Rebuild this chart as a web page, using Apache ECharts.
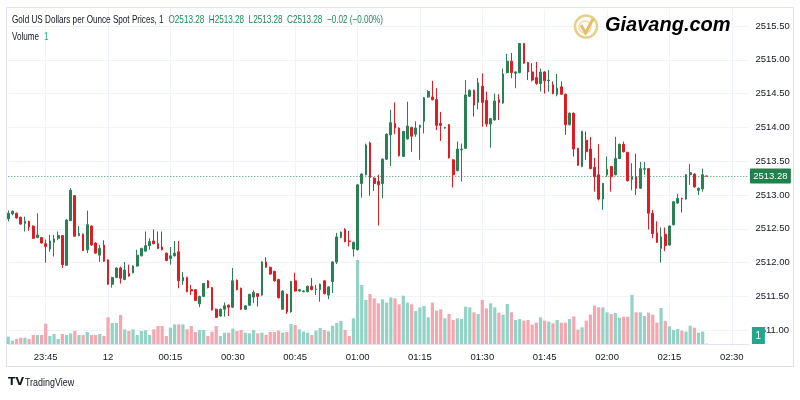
<!DOCTYPE html>
<html><head><meta charset="utf-8">
<script src="https://cdn.jsdelivr.net/npm/echarts@6/dist/echarts.min.js"></script>
<style>html,body{margin:0;padding:0;background:#fff;}#c{width:800px;height:400px;}</style>
</head><body><div id="c"></div>
<script>
const startTime = '23:36';
const slotCount = 179;
const tickLabels = ['23:45','12','00:15','00:30','00:45','01:00','01:15','01:30','01:45','02:00','02:15','02:30'];
const opens = [2512.65,2512.72,2512.73,2512.67,2512.58,2512.61,2512.54,2512.37,2512.37,2512.28,2512.20,2512.30,2512.36,2512.40,2511.96,2512.62,2512.99,2512.40,2512.42,2512.19,2512.54,2512.29,2512.11,2512.26,2512.04,2511.68,2511.78,2511.92,2511.75,2511.84,2511.85,2511.95,2512.10,2512.17,2512.25,2512.32,2512.28,2512.23,2512.14,2512.06,2512.10,2512.16,2511.73,2511.78,2511.60,2511.60,2511.39,2511.50,2511.73,2511.63,2511.31,2511.21,2511.31,2511.37,2511.34,2511.74,2511.62,2511.31,2511.37,2511.49,2511.54,2511.52,2512.01,2511.93,2511.87,2511.75,2511.31,2511.53,2511.27,2511.73,2511.58,2511.57,2511.57,2511.65,2511.60,2511.60,2511.73,2511.52,2511.72,2512.01,2512.37,2512.49,2512.32,2512.20,2512.19,2513.17,2513.30,2513.77,2513.25,2513.20,2513.17,2513.53,2513.89,2514.06,2513.99,2513.57,2513.83,2514.00,2513.90,2514.00,2514.09,2514.45,2514.45,2514.41,2514.06,2513.99,2514.04,2513.52,2513.36,2513.67,2513.69,2514.46,2514.55,2514.37,2514.61,2514.40,2514.05,2514.11,2514.41,2514.36,2514.81,2514.98,2514.80,2514.81,2515.24,2514.96,2514.82,2514.74,2514.65,2514.82,2514.69,2514.63,2514.49,2514.60,2514.49,2514.04,2514.21,2513.69,2513.42,2513.81,2513.68,2513.41,2513.30,2512.94,2513.30,2513.42,2513.30,2513.54,2513.75,2513.63,2513.23,2513.27,2513.10,2513.38,2513.39,2512.73,2512.44,2512.21,2512.42,2512.26,2512.56,2512.88,2512.95,2512.94,2513.30,2513.31,2513.07,2513.09,2513.28];
const closes = [2512.73,2512.76,2512.66,2512.57,2512.61,2512.53,2512.36,2512.41,2512.29,2512.24,2512.32,2512.35,2512.40,2511.97,2512.63,2513.07,2512.39,2512.43,2512.18,2512.56,2512.26,2512.14,2512.21,2512.02,2511.68,2511.78,2511.92,2511.77,2511.89,2511.80,2511.95,2512.11,2512.21,2512.25,2512.31,2512.28,2512.21,2512.19,2512.03,2512.10,2512.14,2511.73,2511.78,2511.57,2511.58,2511.44,2511.50,2511.69,2511.63,2511.30,2511.19,2511.31,2511.36,2511.34,2511.73,2511.60,2511.31,2511.36,2511.53,2511.56,2511.50,2512.01,2511.93,2511.83,2511.73,2511.48,2511.58,2511.27,2511.72,2511.58,2511.60,2511.58,2511.65,2511.60,2511.61,2511.68,2511.54,2511.64,2512.01,2512.38,2512.45,2512.31,2512.31,2512.30,2513.15,2513.31,2513.74,2513.26,2513.17,2513.15,2513.53,2513.90,2514.07,2513.99,2513.58,2513.94,2514.02,2513.87,2513.99,2514.03,2514.44,2514.53,2514.41,2514.03,2514.03,2514.00,2513.55,2513.30,2513.68,2513.68,2514.48,2514.55,2514.33,2514.66,2514.37,2514.05,2514.13,2514.39,2514.37,2514.79,2514.98,2514.81,2514.82,2515.24,2514.95,2514.82,2514.70,2514.65,2514.82,2514.69,2514.70,2514.50,2514.58,2514.49,2514.04,2514.21,2513.68,2513.44,2513.94,2513.64,2513.39,2513.27,2512.94,2513.17,2513.38,2513.27,2513.54,2513.75,2513.64,2513.21,2513.27,2513.10,2513.39,2513.39,2512.73,2512.43,2512.30,2512.38,2512.25,2512.54,2512.90,2512.95,2512.94,2513.30,2513.33,2513.12,2513.10,2513.30,2513.28];
const lows = [2512.61,2512.70,2512.65,2512.56,2512.46,2512.47,2512.35,2512.36,2512.28,2512.00,2512.16,2512.09,2512.33,2511.92,2511.96,2512.62,2512.39,2512.39,2512.17,2512.14,2512.25,2512.13,2512.01,2512.01,2511.67,2511.63,2511.77,2511.69,2511.74,2511.79,2511.84,2511.94,2512.09,2512.16,2512.19,2512.27,2512.20,2512.18,2512.02,2511.97,2512.09,2511.62,2511.67,2511.56,2511.52,2511.43,2511.34,2511.49,2511.62,2511.29,2511.18,2511.20,2511.20,2511.21,2511.33,2511.59,2511.30,2511.30,2511.36,2511.40,2511.35,2511.51,2511.92,2511.82,2511.72,2511.47,2511.30,2511.24,2511.26,2511.57,2511.57,2511.56,2511.56,2511.59,2511.52,2511.42,2511.53,2511.46,2511.55,2511.98,2512.36,2512.30,2512.24,2512.09,2512.18,2512.96,2513.29,2512.99,2513.06,2512.55,2512.95,2513.52,2513.43,2513.90,2513.57,2513.56,2513.82,2513.64,2513.86,2513.52,2513.91,2514.44,2514.40,2513.96,2513.80,2513.98,2513.54,2513.11,2513.35,2513.20,2513.68,2514.45,2514.16,2514.27,2514.01,2514.01,2513.70,2514.10,2514.11,2514.35,2514.80,2514.73,2514.58,2514.80,2514.94,2514.70,2514.68,2514.63,2514.53,2514.50,2514.53,2514.49,2514.46,2514.48,2513.89,2514.03,2513.57,2513.43,2513.41,2513.52,2513.38,2513.05,2512.92,2512.78,2513.27,2513.05,2513.29,2513.53,2513.63,2513.20,2513.07,2513.00,2513.09,2513.30,2512.49,2512.36,2512.29,2512.00,2512.17,2512.25,2512.55,2512.87,2512.74,2512.93,2513.15,2513.11,2513.00,2513.05,2513.28];
const highs = [2512.77,2512.77,2512.74,2512.68,2512.68,2512.62,2512.55,2512.73,2512.38,2512.34,2512.41,2512.41,2512.46,2512.40,2512.64,2513.10,2513.00,2512.54,2512.43,2512.77,2512.55,2512.30,2512.26,2512.33,2512.05,2511.79,2511.93,2511.94,2512.01,2511.97,2511.96,2512.19,2512.22,2512.46,2512.36,2512.49,2512.46,2512.46,2512.15,2512.23,2512.32,2512.32,2511.86,2511.79,2511.67,2511.61,2511.51,2511.70,2511.74,2511.64,2511.32,2511.32,2511.41,2511.38,2511.92,2511.75,2511.63,2511.37,2511.54,2511.59,2511.55,2512.02,2512.08,2511.94,2511.88,2511.76,2511.59,2511.54,2511.73,2511.85,2511.61,2511.59,2511.66,2511.77,2511.67,2511.69,2511.74,2511.65,2512.02,2512.44,2512.46,2512.51,2512.47,2512.31,2513.16,2513.32,2513.76,2513.79,2513.26,2513.30,2513.54,2513.91,2514.26,2514.37,2514.00,2513.95,2514.38,2514.01,2514.09,2514.04,2514.45,2514.55,2514.69,2514.58,2514.23,2514.01,2514.05,2513.53,2513.79,2513.76,2514.70,2514.56,2514.56,2514.73,2514.80,2514.53,2514.14,2514.50,2514.49,2514.87,2515.09,2515.10,2514.83,2515.25,2515.25,2514.97,2514.95,2514.97,2514.87,2514.83,2514.85,2514.68,2514.79,2514.68,2514.50,2514.22,2514.22,2513.70,2513.95,2513.94,2513.86,2513.55,2513.75,2513.18,2513.57,2513.43,2513.86,2513.76,2513.79,2513.64,2513.47,2513.61,2513.49,2513.49,2513.40,2512.78,2512.61,2512.52,2512.52,2512.55,2512.91,2513.02,2512.96,2513.31,2513.46,2513.32,2513.11,2513.39,2513.28];
const volumes = [22,10,15,19,19,15,27,27,27,61,24,30,15,30,27,32,39,27,27,36,27,27,30,24,80,63,63,87,44,39,44,27,39,41,27,44,54,54,24,49,59,59,59,44,54,36,42,42,24,37,54,24,34,34,46,39,42,34,32,42,32,34,27,36,36,40,34,36,60,57,44,37,34,27,40,48,42,38,55,63,69,42,24,77,252,177,132,150,137,122,134,124,140,137,119,145,124,119,99,110,114,80,124,100,104,77,90,72,77,75,112,110,95,90,132,107,122,110,94,88,120,95,72,75,70,72,58,64,80,70,67,62,72,64,64,75,83,43,50,70,88,115,110,110,95,90,93,79,82,82,147,95,95,84,94,88,64,108,69,53,42,45,40,37,55,49,34,37,1];
const titleText = 'Gold US Dollars per Ounce Spot Prices, 1';
const lastChange = '\u22120.02 (\u22120.00%)';

const UP = '#2a7f55', DOWN = '#e01b24', VUP = '#92d3c6', VDOWN = '#f5a6ae';
const FONT = "'Liberation Sans',Arial,sans-serif";

const cats = [];
(function(){
  const p = startTime.split(':');
  let m = (+p[0]) * 60 + (+p[1]);
  for (let i = 0; i < slotCount; i++) {
    const mm = (m + i) % 1440;
    const h = Math.floor(mm / 60), mi = mm % 60;
    cats.push((h < 10 ? '0' : '') + h + ':' + (mi < 10 ? '0' : '') + mi);
  }
})();
const tickMap = {};
(function(){
  const idxs = [];
  cats.forEach((c, i) => { if (+c.split(':')[1] % 15 === 0) idxs.push(i); });
  idxs.forEach((ci, k) => { if (k < tickLabels.length) tickMap[ci] = tickLabels[k]; });
})();
const isTick = (i) => tickMap.hasOwnProperty(i);

const candleData = opens.map((o, i) => [o, closes[i], lows[i], highs[i]]);
const volData = volumes.map((v, i) => ({ value: v, itemStyle: { color: closes[i] >= opens[i] ? VUP : VDOWN } }));
const lastIdx = closes.length - 1;
const lastClose = closes[lastIdx];

const chart = echarts.init(document.getElementById('c'), null, { renderer: 'canvas' });
const gridL = 8.3, gridR = 51.6;
chart.setOption({
  animation: false,
  backgroundColor: '#ffffff',
  grid: [
    { left: gridL, right: gridR, top: 9.1, bottom: 52.9 },
    { left: gridL, right: gridR, top: 260, bottom: 56 }
  ],
  xAxis: [
    { type: 'category', gridIndex: 0, data: cats, boundaryGap: false,
      axisLine: { show: false }, axisTick: { show: false }, axisLabel: { show: false },
      splitLine: { show: true, interval: (i) => isTick(i), lineStyle: { color: '#f0f3fa', width: 1 } } },
    { type: 'category', gridIndex: 1, data: cats, boundaryGap: false,
      axisLine: { show: true, lineStyle: { color: '#e0e3eb' } }, axisTick: { show: false },
      axisLabel: { show: true, interval: (i) => isTick(i), formatter: (v, i) => tickMap[i] || '',
        color: '#131722', fontSize: 9.5, fontFamily: FONT, margin: 8 },
      splitLine: { show: false } }
  ],
  yAxis: [
    { type: 'value', gridIndex: 0, position: 'right', min: 2510.75, max: 2515.75, interval: 0.25,
      axisLine: { show: false }, axisTick: { show: false },
      axisLabel: { color: '#131722', fontSize: 9.5, fontFamily: FONT, margin: 7,
        formatter: (v) => (Math.round(v * 100) % 50 === 0 && v > 2510.8 && v < 2515.7) ? v.toFixed(2) : '' },
      splitLine: { show: true, lineStyle: { color: ['rgba(0,0,0,0)', '#f0f3fa'], width: 1 } } },
    { type: 'value', gridIndex: 1, min: 0, max: 252, show: false, splitLine: { show: false } }
  ],
  series: [
    { type: 'bar', xAxisIndex: 1, yAxisIndex: 1, data: volData, barWidth: 3.2, z: 1, silent: true },
    { type: 'candlestick', xAxisIndex: 0, yAxisIndex: 0, data: candleData, barWidth: 2.2, clip: false, z: 5,
      itemStyle: { color: UP, color0: DOWN, borderColor: UP, borderColor0: DOWN, borderWidth: 1 },
      markLine: { silent: true, symbol: 'none', animation: false,
        label: { show: false },
        lineStyle: { type: [1, 2], color: UP, width: 1, opacity: 0.9 },
        data: [{ yAxis: lastClose }] } }
  ]
});

const yLast = chart.convertToPixel({ yAxisIndex: 0 }, lastClose);
const yVol = chart.convertToPixel({ yAxisIndex: 1 }, 0);
const axisX = 800 - gridR;
const ohlc = 'O' + opens[lastIdx].toFixed(2) + '  H' + highs[lastIdx].toFixed(2) + '  L' + lows[lastIdx].toFixed(2) + '  C' + closes[lastIdx].toFixed(2) + '  ' + lastChange;

chart.setOption({
  graphic: [
    { type: 'rect', silent: true, z: -10, shape: { x: 6.5, y: 7.5, width: 787, height: 359 },
      style: { fill: 'none', stroke: '#e0e3eb', lineWidth: 1 } },
    { type: 'text', x: 12, y: 13.5, scaleX: 0.74, z: 20, style: {
        text: '{t|' + titleText + '}  {g|' + ohlc + '}',
        rich: { t: { fill: '#131722', fontSize: 11, fontFamily: FONT }, g: { fill: '#22875a', fontSize: 11, fontFamily: FONT } } } },
    { type: 'text', x: 12, y: 30.5, scaleX: 0.74, z: 20, style: {
        text: '{t|Volume}  {g|' + volumes[lastIdx] + '}',
        rich: { t: { fill: '#131722', fontSize: 11, fontFamily: FONT }, g: { fill: '#26a69a', fontSize: 11, fontFamily: FONT } } } },
    { type: 'group', x: 574, y: 14, z: 20, children: [
        { type: 'circle', shape: { cx: 12, cy: 12.5, r: 11 }, style: { fill: 'none', stroke: '#e8cf86', lineWidth: 2.5 } },
        { type: 'circle', shape: { cx: 11, cy: 13, r: 6 }, style: { fill: 'none', stroke: '#efdcaa', lineWidth: 1.5 } },
        { type: 'polyline', shape: { points: [[7, 11], [11.5, 19], [19, 5]] }, style: { fill: 'none', stroke: '#dfc068', lineWidth: 3 } },
        { type: 'text', x: 31, y: 1, style: { text: 'Giavang.com', fontSize: 20, fontWeight: 'bold', fontStyle: 'italic', fontFamily: "'Liberation Sans',Arial,sans-serif",
            fill: new echarts.graphic.LinearGradient(0, 0, 0, 1, [{ offset: 0, color: '#f5e3a8' }, { offset: 0.5, color: '#e8ca76' }, { offset: 1, color: '#d9b757' }]) } }
      ] },
    { type: 'rect', z: 30, shape: { x: axisX + 1.5, y: yLast - 7.5, width: 41, height: 15, r: 1 }, style: { fill: '#22804f' } },
    { type: 'text', z: 31, x: axisX + 22, y: yLast, style: { text: lastClose.toFixed(2), fill: '#ffffff', fontSize: 9.5, fontFamily: FONT, align: 'center', verticalAlign: 'middle' } },
    { type: 'rect', z: 30, shape: { x: axisX + 3.5, y: yVol - 17, width: 13, height: 17 }, style: { fill: '#22a68d' } },
    { type: 'text', z: 31, x: axisX + 10, y: yVol - 8, style: { text: String(volumes[lastIdx]), fill: '#ffffff', fontSize: 10, fontFamily: FONT, align: 'center', verticalAlign: 'middle' } },
    { type: 'text', x: 8, y: 377, z: 20, style: { text: 'TV', fontSize: 11, fontWeight: 'bold', fill: '#131722', fontFamily: "'DejaVu Sans',sans-serif" } },
    { type: 'text', x: 25, y: 378, scaleX: 0.85, z: 20, style: { text: 'TradingView', fontSize: 10.5, fill: '#131722', fontFamily: FONT } }
  ]
});
</script></body></html>
